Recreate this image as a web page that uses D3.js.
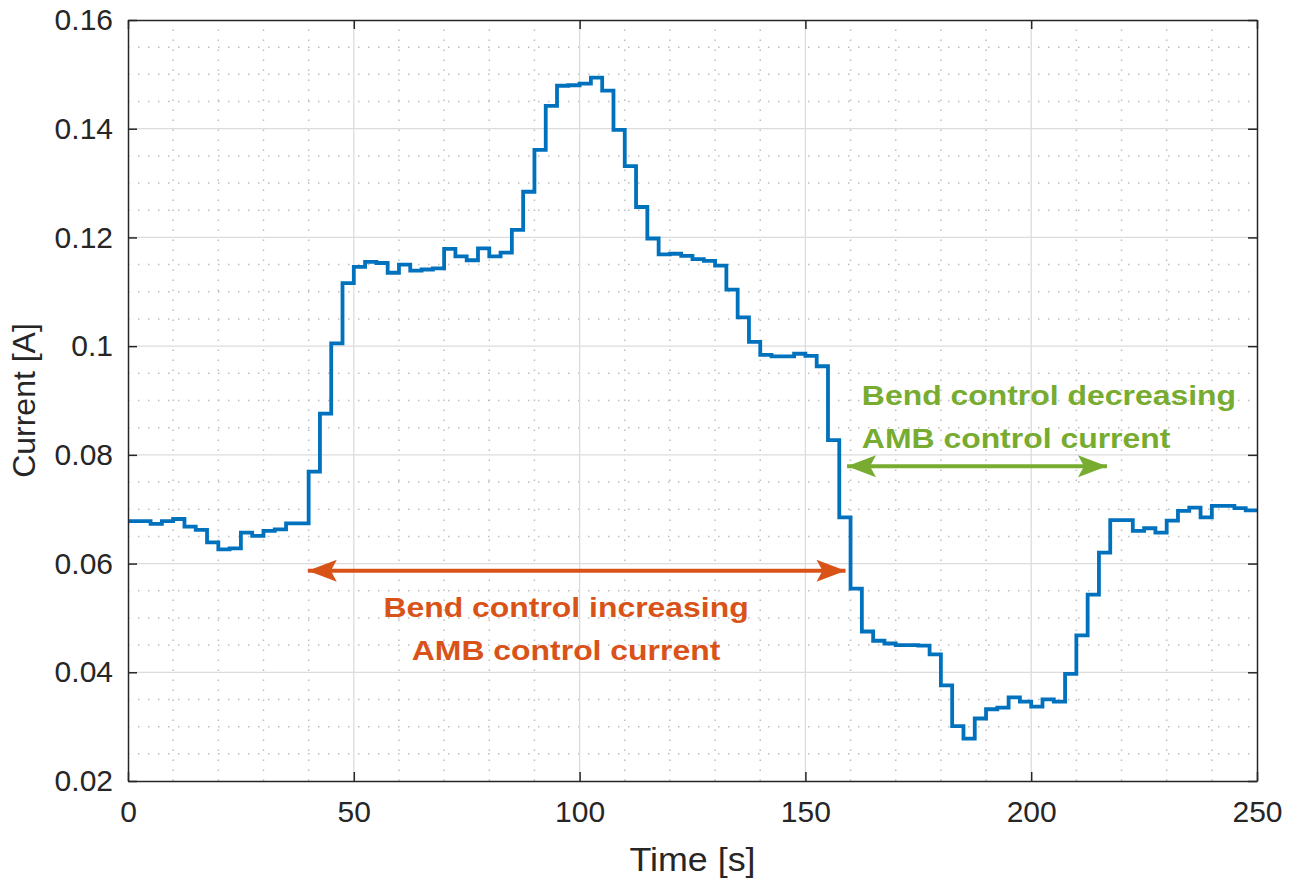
<!DOCTYPE html>
<html lang="en">
<head>
    <meta charset="UTF-8">
    <title>AMB control current</title>
    <script src="https://d3js.org/d3.v7.min.js"></script>
    <style>
        body { margin: 0; background: #fff; }
        .tick-label { font-family: "Liberation Sans", Arial, sans-serif; font-size: 30px; fill: #262626; }
        .axis-title { font-family: "Liberation Sans", Arial, sans-serif; font-size: 32px; fill: #262626; }
        .note { font-family: "Liberation Sans", Arial, sans-serif; font-size: 28px; font-weight: bold; }
        .grid-major { stroke: #dcdcdc; stroke-width: 1.3; }
        .grid-minor { stroke: #bdbdbd; stroke-width: 1.5; stroke-dasharray: 1.5,8.5; }
        .series { fill: none; stroke: #0072BD; stroke-width: 3.8; stroke-linejoin: miter; }
    </style>
</head>
<body>
    <div id="chart"></div>
    <script>
        const width = 1295, height = 879;
        const margin = { top: 20, right: 38, bottom: 98, left: 128 };

        // sample period 2.5 s, 100 samples (step plot)
        const dt = 2.5;
        const current = [
            0.0678, 0.0678, 0.0673, 0.0678, 0.0682, 0.0668, 0.0662, 0.0639, 0.0626, 0.0628,
            0.0657, 0.0651, 0.0660, 0.0663, 0.0674, 0.0674, 0.0769, 0.0876, 0.1005, 0.1116,
            0.1146, 0.1155, 0.1153, 0.1135, 0.1150, 0.1139, 0.1141, 0.1143, 0.1179, 0.1165,
            0.1158, 0.1180, 0.1165, 0.1172, 0.1214, 0.1284, 0.1361, 0.1442, 0.1479, 0.1480,
            0.1483, 0.1494, 0.1470, 0.1398, 0.1331, 0.1256, 0.1198, 0.1169, 0.1170, 0.1166,
            0.1160, 0.1157, 0.1148, 0.1104, 0.1053, 0.1008, 0.0984, 0.0981, 0.0981, 0.0986,
            0.0982, 0.0963, 0.0827, 0.0685, 0.0554, 0.0475, 0.0458, 0.0453, 0.0450, 0.0450,
            0.0449, 0.0433, 0.0376, 0.0301, 0.0278, 0.0315, 0.0332, 0.0335, 0.0354, 0.0346,
            0.0337, 0.0350, 0.0346, 0.0397, 0.0468, 0.0543, 0.0620, 0.0680, 0.0680, 0.0660,
            0.0665, 0.0657, 0.0679, 0.0697, 0.0703, 0.0685, 0.0706, 0.0706, 0.0702, 0.0698
        ];

        const xTicks = [0, 50, 100, 150, 200, 250];
        const yTicks = [0.02, 0.04, 0.06, 0.08, 0.1, 0.12, 0.14, 0.16];
        const yTickLabels = ["0.02", "0.04", "0.06", "0.08", "0.1", "0.12", "0.14", "0.16"];
        const xMinor = d3.range(0, 251, 10);
        const yMinor = d3.range(0.02, 0.1601, 0.005);

        // annotations: [t start, t end, current level]
        const incArrow = [39.6, 159.1, 0.0587];
        const decArrow = [159.0, 217.0, 0.0779];
        const incText = ["Bend control increasing", "AMB control current"];
        const decText = ["Bend control decreasing", "AMB control current"];
        const incTextPos = [97, 0.0502, 0.0422];   // centre t, baseline 1, baseline 2
        const decTextPos = [162.5, 0.0891, 0.0813]; // left t, baseline 1, baseline 2

        const orange = "#D95319", green = "#77AC30";

        const svg = d3.select("#chart")
            .append("svg")
            .attr("width", width)
            .attr("height", height);

        const x = d3.scaleLinear().domain([0, 250]).range([margin.left, width - margin.right]);
        const y = d3.scaleLinear().domain([0.02, 0.16]).range([height - margin.bottom, margin.top]);

        // grid
        const grid = svg.append("g");
        grid.selectAll(".xm").data(xMinor.filter(d => d % 50 !== 0)).join("line")
            .attr("class", "grid-minor")
            .attr("x1", d => x(d)).attr("x2", d => x(d))
            .attr("y1", y(0.02)).attr("y2", y(0.16));
        grid.selectAll(".ym").data(yMinor.filter(d => Math.abs(d / 0.02 - Math.round(d / 0.02)) > 1e-6)).join("line")
            .attr("class", "grid-minor")
            .attr("y1", d => y(d)).attr("y2", d => y(d))
            .attr("x1", x(0)).attr("x2", x(250));
        grid.selectAll(".xM").data(xTicks.slice(1, -1)).join("line")
            .attr("class", "grid-major")
            .attr("x1", d => x(d)).attr("x2", d => x(d))
            .attr("y1", y(0.02)).attr("y2", y(0.16));
        grid.selectAll(".yM").data(yTicks.slice(1, -1)).join("line")
            .attr("class", "grid-major")
            .attr("y1", d => y(d)).attr("y2", d => y(d))
            .attr("x1", x(0)).attr("x2", x(250));

        // step series
        const pts = current.map((v, i) => [i * dt, v]);
        pts.push([current.length * dt, current[current.length - 1]]);
        svg.append("path")
            .datum(pts)
            .attr("class", "series")
            .attr("d", d3.line().curve(d3.curveStepAfter).x(d => x(d[0])).y(d => y(d[1])));

        // axes (box with inward ticks)
        const tickLen = 9;
        const axColor = "#262626";
        const axBottom = svg.append("g").attr("transform", `translate(0,${y(0.02)})`)
            .call(d3.axisBottom(x).tickValues(xTicks).tickSizeInner(-tickLen).tickSizeOuter(0).tickPadding(20));
        const axTop = svg.append("g").attr("transform", `translate(0,${y(0.16)})`)
            .call(d3.axisTop(x).tickValues(xTicks).tickSizeInner(-tickLen).tickSizeOuter(0).tickFormat(""));
        const axLeft = svg.append("g").attr("transform", `translate(${x(0)},0)`)
            .call(d3.axisLeft(y).tickValues(yTicks).tickSizeInner(-tickLen).tickSizeOuter(0).tickPadding(15)
                .tickFormat((d, i) => yTickLabels[i]));
        const axRight = svg.append("g").attr("transform", `translate(${x(250)},0)`)
            .call(d3.axisRight(y).tickValues(yTicks).tickSizeInner(-tickLen).tickSizeOuter(0).tickFormat(""));

        [axBottom, axTop, axLeft, axRight].forEach(g => {
            g.select(".domain").attr("stroke", axColor).attr("stroke-width", 1.5);
            g.selectAll(".tick line").attr("stroke", axColor).attr("stroke-width", 1.5);
            g.selectAll(".tick text").attr("class", "tick-label").attr("font-size", null).attr("font-family", null);
        });
        axBottom.selectAll(".tick text").attr("dy", "0.71em");

        svg.append("text")
            .attr("class", "axis-title")
            .attr("transform", `translate(${(x(0) + x(250)) / 2},871) scale(1.12,1.02)`)
            .attr("text-anchor", "middle")
            .text("Time [s]");

        svg.append("text")
            .attr("class", "axis-title")
            .attr("transform", `translate(35,${(y(0.02) + y(0.16)) / 2}) rotate(-90)`)
            .attr("text-anchor", "middle")
            .text("Current [A]");

        // arrows
        const defs = svg.append("defs");
        function head(id, color) {
            defs.append("marker")
                .attr("id", id)
                .attr("markerUnits", "userSpaceOnUse")
                .attr("markerWidth", 32).attr("markerHeight", 26)
                .attr("refX", 29).attr("refY", 12)
                .attr("orient", "auto-start-reverse")
                .append("path")
                .attr("d", "M0,1 L29,12 L0,23 L6,12 Z")
                .attr("fill", color);
        }
        head("head-inc", orange);
        head("head-dec", green);

        function arrow(a, color, id) {
            svg.append("line")
                .attr("x1", x(a[0]) + 1).attr("x2", x(a[1]) - 1)
                .attr("y1", y(a[2])).attr("y2", y(a[2]))
                .attr("stroke", color)
                .attr("stroke-width", 4)
                .attr("marker-start", `url(#${id})`)
                .attr("marker-end", `url(#${id})`);
        }
        arrow(incArrow, orange, "head-inc");
        arrow(decArrow, green, "head-dec");

        // annotation text (slightly wide bold face)
        function note(lines, pos, color, anchor) {
            lines.forEach((s, i) => {
                svg.append("text")
                    .attr("class", "note")
                    .attr("fill", color)
                    .attr("text-anchor", anchor)
                    .attr("transform", `translate(${x(pos[0])},${y(pos[i + 1])}) scale(1.14,1)`)
                    .text(s);
            });
        }
        note(incText, incTextPos, orange, "middle");
        note(decText, decTextPos, green, "start");
    </script>
</body>
</html>
